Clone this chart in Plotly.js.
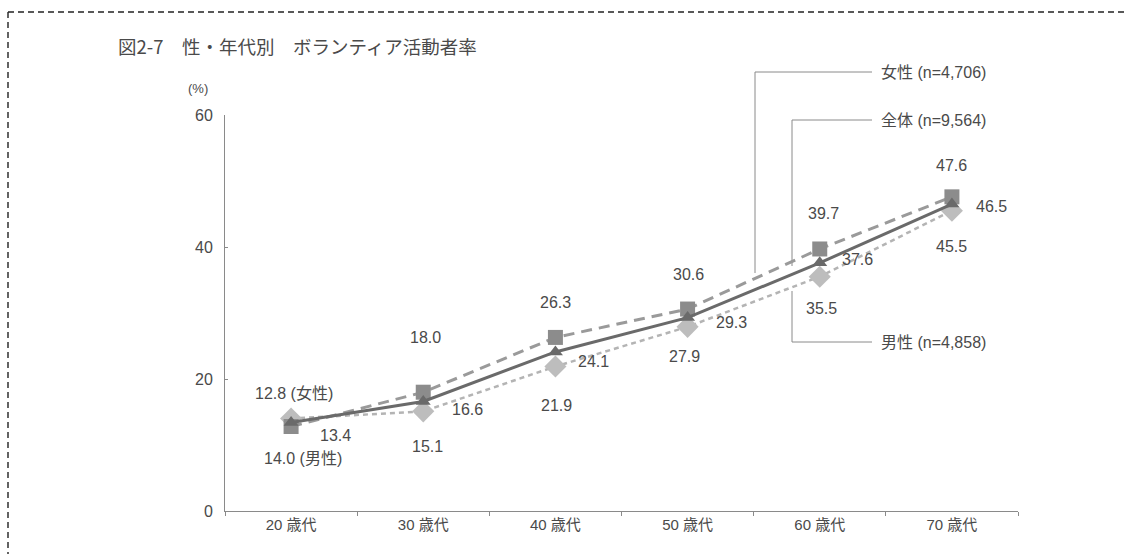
<!DOCTYPE html>
<html>
<head>
<meta charset="utf-8">
<script src="https://cdn.plot.ly/plotly-3.0.1.min.js"></script>
<style>html,body{margin:0;padding:0;background:#fff;}#chart{width:1125px;height:554px;}</style>
</head>
<body>
<div id="chart"></div>
<script>
// ---- data ----
const categories = ['20 歳代', '30 歳代', '40 歳代', '50 歳代', '60 歳代', '70 歳代'];
const women = [12.8, 18.0, 26.3, 30.6, 39.7, 47.6];
const total = [13.4, 16.6, 24.1, 29.3, 37.6, 46.5];
const men   = [14.0, 15.1, 21.9, 27.9, 35.5, 45.5];
const seriesNames = {women: '女性 (n=4,706)', total: '全体 (n=9,564)', men: '男性 (n=4,858)'};
const firstSuffix = {women: ' (女性)', men: ' (男性)'};
const yTicks = [0, 20, 40, 60];

// ---- label offsets (pixels) ----
const womenOff = [[3,33],[2,55],[0,35],[1,35],[4,35],[0,31]];
const totalOff = [[44,-13],[44,-8],[38,-10],[44,-5],[38,3],[40,-2]];
const menOff   = [[12,-40],[4,-35],[1,-39],[-3,-30],[2,-32],[0,-36]];

const textCol = '#4a4a4a';
const fontFam = 'Liberation Sans, Arial, Noto Sans CJK JP, sans-serif';

const traces = [
  {x: categories, y: men, name: seriesNames.men, type: 'scatter', mode: 'lines+markers',
   line: {color: '#b4b4b4', width: 2.5, dash: '5px,4px'},
   marker: {symbol: 'diamond', size: 17, color: '#bdbdbd'}, cliponaxis: false},
  {x: categories, y: women, name: seriesNames.women, type: 'scatter', mode: 'lines+markers',
   line: {color: '#9a9a9a', width: 3, dash: '11px,7px'},
   marker: {symbol: 'square', size: 15, color: '#8c8c8c'}, cliponaxis: false},
  {x: categories, y: total, name: seriesNames.total, type: 'scatter', mode: 'lines+markers',
   line: {color: '#6a6a6a', width: 3},
   marker: {symbol: 'triangle-up', size: 13, color: '#6a6a6a'}, cliponaxis: false}
];

const annotations = [];
function addLabels(vals, offs, suffix) {
  vals.forEach((v, i) => {
    annotations.push({x: i, y: v, xref: 'x', yref: 'y', showarrow: false,
      text: v.toFixed(1) + (i === 0 && suffix ? suffix : ''),
      xshift: offs[i][0], yshift: offs[i][1],
      font: {size: 16, color: textCol, family: fontFam}});
  });
}
addLabels(women, womenOff, firstSuffix.women);
addLabels(total, totalOff, '');
addLabels(men, menOff, firstSuffix.men);

// plot area geometry (pixels) for paper conversions
const L = 225, R = 1018, T = 115, B = 511;
const px = p => (p - L) / (R - L);
const py = p => (B - p) / (B - T);

// legend callouts
const legendText = [
  {t: seriesNames.women, y: 72},
  {t: seriesNames.total, y: 120},
  {t: seriesNames.men, y: 342}
];
legendText.forEach(o => annotations.push({xref: 'paper', yref: 'paper', x: px(879), y: py(o.y),
  xanchor: 'left', yanchor: 'middle', showarrow: false, text: o.t,
  font: {size: 16, color: textCol, family: fontFam}}));

annotations.push({xref: 'paper', yref: 'paper', x: px(198), y: py(88), xanchor: 'center', yanchor: 'middle',
  showarrow: false, text: '(%)', font: {size: 13, color: textCol, family: fontFam}});

const lc = {color: '#8a8a8a', width: 1};
const seg = (x0, y0, x1, y1, line) => ({type: 'line', xref: 'paper', yref: 'paper',
  x0: px(x0), y0: py(y0), x1: px(x1), y1: py(y1), line: line || lc, layer: 'below'});
const shapes = [
  seg(755, 72, 872, 72), seg(755, 72, 755, 273),
  seg(792, 120, 872, 120), seg(792, 120, 792, 266),
  seg(792, 342, 872, 342), seg(792, 342, 792, 291),
  // dashed frame
  seg(8, 12, 1125, 12, {color: '#222', width: 1.4, dash: '6px,4px'}),
  seg(8, 12, 8, 560, {color: '#222', width: 1.4, dash: '6px,4px'})
];

const layout = {
  width: 1125, height: 554,
  margin: {l: L, r: 1125 - R, t: T, b: 554 - B, pad: 0},
  paper_bgcolor: '#fff', plot_bgcolor: '#fff',
  showlegend: false,
  font: {family: fontFam, color: textCol},
  title: {text: '図2-7　性・年代別　ボランティア活動者率', x: 118 / 1125, xanchor: 'left',
    y: 1 - 48 / 554, yanchor: 'middle', xref: 'container', yref: 'container',
    font: {size: 18.5, color: '#4a4a4a', family: 'Noto Sans CJK JP, sans-serif'}},
  xaxis: {type: 'category', range: [-0.5, 5.5], showgrid: false, zeroline: false,
    showline: true, linecolor: '#8a8a8a', linewidth: 1,
    ticks: 'outside', tickson: 'boundaries', ticklen: 4, tickcolor: '#8a8a8a',
    tickfont: {size: 15, color: textCol, family: fontFam}},
  yaxis: {range: [0, 60], tickvals: yTicks, showgrid: false, zeroline: false,
    showline: true, linecolor: '#8a8a8a', linewidth: 1,
    ticks: 'inside', ticklen: 3, tickcolor: '#8a8a8a', ticklabelstandoff: 8,
    tickfont: {size: 16, color: textCol, family: fontFam}},
  annotations: annotations,
  shapes: shapes
};

Plotly.newPlot('chart', traces, layout, {displayModeBar: false, staticPlot: true});
</script>
</body>
</html>
